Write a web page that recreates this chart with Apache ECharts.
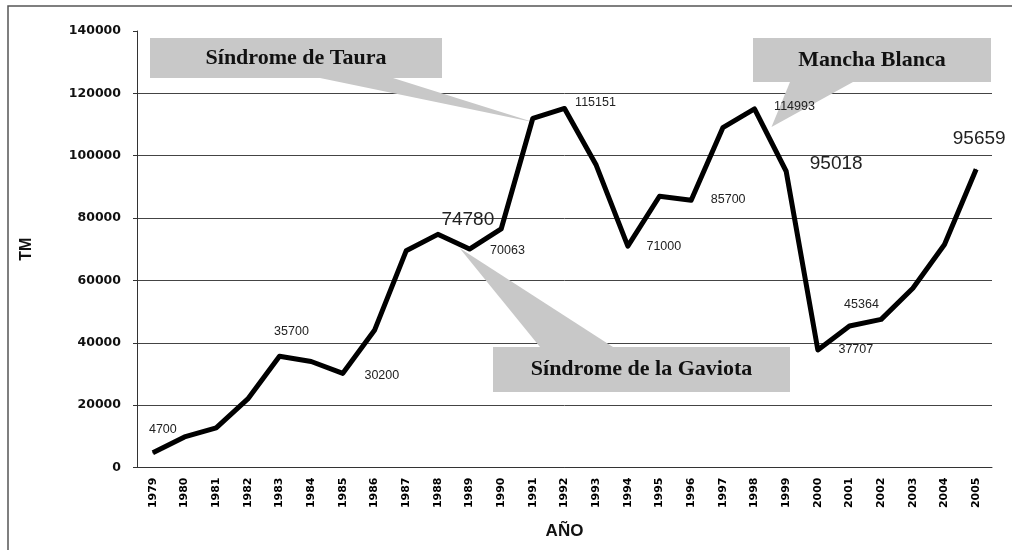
<!DOCTYPE html>
<html>
<head>
<meta charset="utf-8">
<script src="https://cdn.jsdelivr.net/npm/echarts@6/dist/echarts.min.js"></script>
<style>
  html, body { margin: 0; padding: 0; background: #fff; }
  #chart { width: 1012px; height: 550px; }
</style>
</head>
<body>
<div id="chart"></div>
<script>
// years on the x axis
const years = ['1979', '1980', '1981', '1982', '1983', '1984', '1985', '1986', '1987',
  '1988', '1989', '1990', '1991', '1992', '1993', '1994', '1995', '1996', '1997',
  '1998', '1999', '2000', '2001', '2002', '2003', '2004', '2005']

// production (TM) per year
const production = [4700, 9800, 12700, 22000, 35700, 34000, 30200, 44000, 69500,
  74780, 70063, 76500, 112000, 115151, 97000, 71000, 87000, 85700, 109000,
  114993, 95018, 37707, 45364, 47500, 57500, 71500, 95659]

// which points get a value label: [index, size]
const labelled = [
  [0, 'small'], [4, 'small'], [6, 'small'], [9, 'big'], [10, 'small'],
  [13, 'small'], [15, 'small'], [17, 'small'], [19, 'small'], [20, 'big'],
  [21, 'small'], [22, 'small'], [26, 'big']
]

const yTicks = [0, 20000, 40000, 60000, 80000, 100000, 120000, 140000]

// label offsets relative to the point (layout only)
const labelOffset = {
  0: [10, -23], 4: [12, -25], 6: [39, 2], 9: [30, -15], 10: [38, 1],
  13: [31, -6], 15: [36, 0], 17: [37, -1], 19: [40, -2], 20: [50, -7],
  21: [38, 0], 22: [12, -22], 26: [3, -30]
}

const callouts = [
  { text: 'Síndrome de Taura', box: [150, 38, 292, 40], base: [320, 393, 78], point: 12, tip: [1, 4] },
  { text: 'Mancha Blanca', box: [753, 38, 238, 44], base: [790, 853, 82], point: 19, tip: [17, 18] },
  { text: 'Síndrome de la Gaviota', box: [493, 347, 297, 45], base: [540, 613, 347], point: 10, tip: [-10, -1] }
]

const chartDom = document.getElementById('chart')
const myChart = echarts.init(chartDom)

const seriesData = production.map((v, i) => {
  const found = labelled.find(l => l[0] === i)
  if (!found) return { value: v }
  const big = found[1] === 'big'
  return {
    value: v,
    label: {
      show: true,
      position: 'inside',
      offset: labelOffset[i],
      fontSize: big ? 19 : 12.5,
      color: '#222',
      fontFamily: 'Liberation Sans, Arial, sans-serif'
    }
  }
})

const option = {
  animation: false,
  backgroundColor: '#fff',
  grid: { left: 137, right: 20, top: 31, bottom: 82.5 },
  xAxis: {
    type: 'category',
    data: years,
    name: 'AÑO',
    nameLocation: 'middle',
    nameGap: 55,
    nameTextStyle: { fontSize: 17, fontWeight: 'bold', color: '#111', fontFamily: 'Liberation Sans, Arial' },
    axisLine: { lineStyle: { color: '#333', width: 1 } },
    axisTick: { length: 4, lineStyle: { color: '#333' } },
    axisLabel: {
      rotate: 90,
      margin: 10,
      fontSize: 11,
      fontWeight: 'bold',
      color: '#000',
      fontFamily: 'DejaVu Sans, sans-serif'
    },
    splitLine: { show: false }
  },
  yAxis: {
    type: 'value',
    min: 0,
    max: 140000,
    interval: 20000,
    name: 'TM',
    nameLocation: 'middle',
    nameGap: 102,
    nameTextStyle: { fontSize: 16, fontWeight: 'bold', color: '#111', fontFamily: 'Liberation Sans, Arial' },
    axisLine: { show: true, lineStyle: { color: '#333', width: 1 } },
    axisTick: { show: true, length: 4, lineStyle: { color: '#333' } },
    axisLabel: {
      margin: 16,
      fontSize: 12.5,
      fontWeight: 'bold',
      color: '#111',
      fontFamily: 'DejaVu Sans, sans-serif',
      formatter: v => yTicks.indexOf(v) >= 0 ? String(v) : ''
    },
    splitLine: {
      show: true,
      // last one (140000) is not drawn in the original
      lineStyle: { color: ['#444', '#444', '#444', '#444', '#444', '#444', '#444', 'rgba(0,0,0,0)'], width: 1 }
    }
  },
  series: [{
    type: 'line',
    data: seriesData,
    symbol: 'circle',
    symbolSize: 1,
    showAllSymbol: true,
    itemStyle: { color: '#000' },
    lineStyle: { color: '#000', width: 5, join: 'round' },
    z: 3
  }]
}

myChart.setOption(option)

// callout boxes with their pointer, tip anchored on the data point
function buildCallouts() {
  const graphic = [{
    type: 'rect',
    shape: { x: 8, y: 6, width: 1200, height: 700 },
    style: { fill: 'none', stroke: '#555', lineWidth: 1.5 },
    silent: true,
    z: 0
  }]
  callouts.forEach(c => {
    const p = myChart.convertToPixel({ seriesIndex: 0 }, [c.point, production[c.point]])
    const tip = [p[0] + c.tip[0], p[1] + c.tip[1]]
    graphic.push({
      type: 'polygon',
      shape: { points: [[c.base[0], c.base[2]], [c.base[1], c.base[2]], tip] },
      style: { fill: '#c8c8c8' },
      silent: true,
      z: 1
    })
    graphic.push({
      type: 'rect',
      shape: { x: c.box[0], y: c.box[1], width: c.box[2], height: c.box[3] },
      style: { fill: '#c8c8c8' },
      silent: true,
      z: 1
    })
    graphic.push({
      type: 'text',
      x: c.box[0] + c.box[2] / 2,
      y: c.box[1] + c.box[3] / 2,
      style: {
        text: c.text,
        fill: '#111',
        font: 'bold 22px "Liberation Serif", "Times New Roman", serif',
        align: 'center',
        verticalAlign: 'middle'
      },
      silent: true,
      z: 2
    })
  })
  myChart.setOption({ graphic: graphic })
}
buildCallouts()

window.onresize = function () {
  myChart.resize()
}
</script>
</body>
</html>
